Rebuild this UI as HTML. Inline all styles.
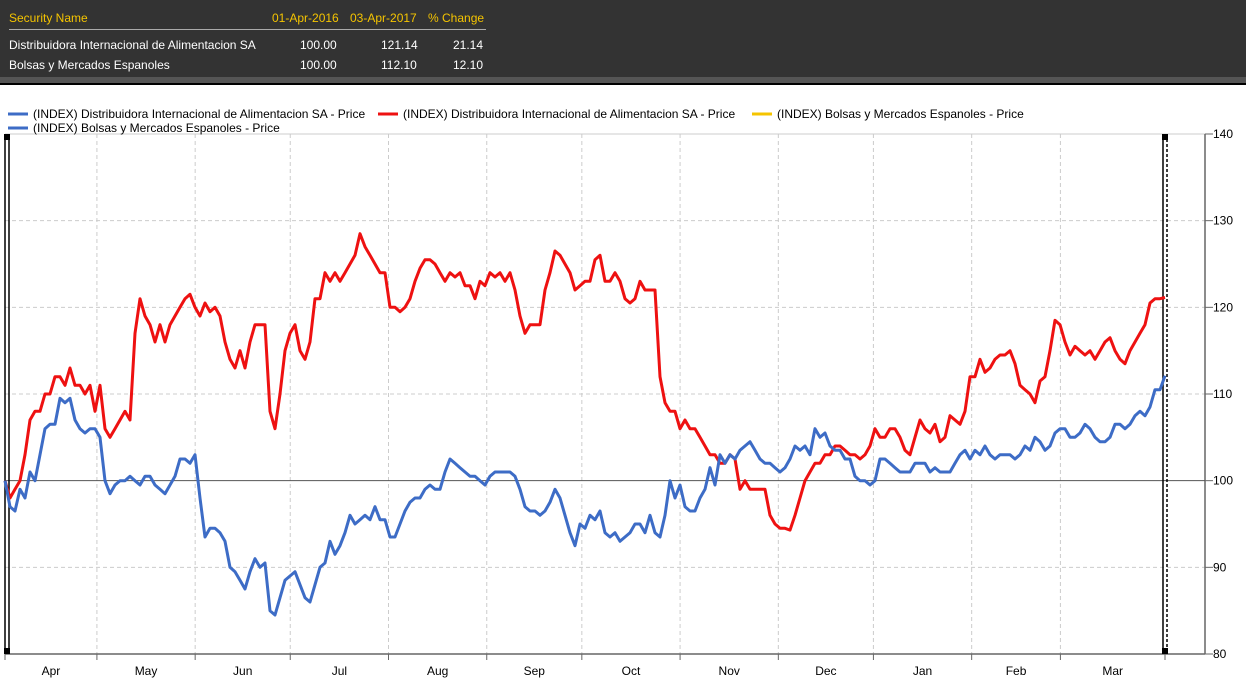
<!DOCTYPE html>
<html><head><meta charset="utf-8"><style>
body{margin:0;width:1246px;height:682px;overflow:hidden;background:#fff;font-family:"Liberation Sans",sans-serif}
#hdr{position:absolute;left:0;top:0;width:1246px;height:77px;background:#333}
#band{position:absolute;left:0;top:77px;width:1246px;height:6px;background:#555;border-bottom:2px solid #000}
.t{position:absolute;font-size:12px;white-space:nowrap}
.y{color:#f5c400}.w{color:#fff}
</style></head><body>
<div id="hdr">
<div class="t y" style="left:9px;top:11px">Security Name</div>
<div class="t y" style="left:272px;top:11px">01-Apr-2016</div>
<div class="t y" style="left:350px;top:11px">03-Apr-2017</div>
<div class="t y" style="left:428px;top:11px">% Change</div>
<div style="position:absolute;left:9px;top:29px;width:477px;height:1px;background:#aaa"></div>
<div class="t w" style="left:9px;top:38px">Distribuidora Internacional de Alimentacion SA</div>
<div class="t w" style="left:300px;top:38px">100.00</div>
<div class="t w" style="left:381px;top:38px">121.14</div>
<div class="t w" style="left:453px;top:38px">21.14</div>
<div class="t w" style="left:9px;top:58px">Bolsas y Mercados Espanoles</div>
<div class="t w" style="left:300px;top:58px">100.00</div>
<div class="t w" style="left:381px;top:58px">112.10</div>
<div class="t w" style="left:453px;top:58px">12.10</div>
</div>
<div id="band"></div>
<svg id="c" width="1246" height="682" style="position:absolute;left:0;top:0"></svg>
<script>
const yTicks=[80,90,100,110,120,130,140];
const months=["Apr","May","Jun","Jul","Aug","Sep","Oct","Nov","Dec","Jan","Feb","Mar"];
const monthStarts=[0,29,60,90,121,152,182,213,244,274,305,333,366];
const diaValues=[100,98,99,100,103,107,108,108,110,110,112,112,111,113,111,111,110,111,108,111,106,105,106,107,108,107,117,121,119,118,116,118,116,118,119,120,121,121.5,120,119,120.5,119.5,120,119,116,114,113,115,113,116,118,118,118,108,106,110,115,117,118,115,114,116,121,121,124,123,124,123,124,125,126,128.5,127,126,125,124,124,120,120,119.5,120,121,123,124.5,125.5,125.5,125,124,123,124,123.5,124,122.5,122.5,121,123,122.5,124,123.5,124,123,124,122,119,117,118,118,118,122,124,126.5,126,125,124,122,122.5,123,123,125.5,126,123,123,124,123,121,120.5,121,123,122,122,122,112,109,108,108,106,107,106,106,105,104,103,103,102,102,103,102.5,99,100,99,99,99,99,96,95,94.5,94.5,94.3,96,98,100,101,102,102,103,103,104,104,103.5,103,103,102.5,103,104,106,105,105,106,106,105,103.5,103,105,107,106,105.5,106.5,104.5,105,107.5,107,106.5,108,112,112,114,112.5,113,114,114.5,114.5,115,113.5,111,110.5,110,109,111.5,112,115,118.5,118,116,114.5,115.5,115,114.5,115,114,115,116,116.5,115,114,113.5,115,116,117,118,120.5,121,121,121.14];
const bmeValues=[100,97,96.5,99,98,101,100,103,106,106.5,106.5,109.5,109,109.5,107,106,105.5,106,106,105,100,98.5,99.5,100,100,100.5,100,99.5,100.5,100.5,99.5,99,98.5,99.5,100.5,102.5,102.5,102,103,98,93.5,94.5,94.5,94,93,90,89.5,88.5,87.5,89.5,91,90,90.5,85,84.5,86.5,88.5,89,89.5,88,86.5,86,88,90,90.5,93,91.5,92.5,94,96,95,95.5,96,95.5,97,95.5,95.5,93.5,93.5,95,96.5,97.5,98,98,99,99.5,99,99,101,102.5,102,101.5,101,100.5,100.5,100,99.5,100.5,101,101,101,101,100.5,99,97,96.5,96.5,96,96.5,97.5,99,98,96,94,92.5,95,94.5,96,95.5,96.5,94,93.5,94,93,93.5,94,95,95,94,96,94,93.5,96,100,98,99.5,97,96.5,96.5,98,99,101.5,99.5,103,102,103,102.5,103.5,104,104.5,103.5,102.5,102,102,101.5,101,101.5,102.5,104,103.5,104,103,106,105,105.5,104,103.5,103.5,102.5,102.5,100.5,100,100,99.5,100,102.5,102.5,102,101.5,101,101,101,102,102,102,101,101.5,101,101,101,102,103,103.5,102.5,103.5,103,104,103,102.5,103,103,103,102.5,103,104,103.5,105,104.5,103.5,104,105.5,106,106,105,105,105.5,106.5,106,105,104.5,104.5,105,106.5,106.5,106,106.5,107.5,108,107.5,108.5,110.5,110.5,112.1];
const NS="http://www.w3.org/2000/svg",svg=document.getElementById('c');
const L=5,R=1165,AX=1205,T=134,B=654;
const yS=v=>B-(v-80)/(140-80)*(B-T);
const dS=d=>L+d/366*(R-L);
function mk(tag,at){const e=document.createElementNS(NS,tag);for(const k in at)e.setAttribute(k,at[k]);svg.appendChild(e);return e;}
for(const v of yTicks){
 if(v>80&&v!==100&&v<140){const g=mk('line',{x1:L,x2:AX,y1:yS(v),y2:yS(v),stroke:'#ccc','stroke-dasharray':'4,3'});
 }
 const tk=mk('line',{x1:AX,x2:AX+8,y1:yS(v),y2:yS(v),stroke:'#666'});
 
 const tx=mk('text',{x:AX+8,y:yS(v)+4,'font-size':12,fill:'#000','font-family':'Liberation Sans'});tx.textContent=v;
 
}
const topBorder=mk('line',{x1:L,x2:AX,y1:T,y2:T,stroke:'#ccc'});


monthStarts.forEach((d,i)=>{
 const x=dS(d);
 if(i>0&&i<12){const g=mk('line',{x1:x,x2:x,y1:T,y2:B,stroke:'#ccc','stroke-dasharray':'4,3'});
 }
 const tk=mk('line',{x1:x,x2:x,y1:B,y2:B+6,stroke:'#666'});
 
 if(i<12){const tx=mk('text',{x:(dS(d)+dS(monthStarts[i+1]))/2,y:675,'font-size':12,'text-anchor':'middle',fill:'#000','font-family':'Liberation Sans'});tx.textContent=months[i];
 }
});
const xa=mk('line',{x1:L,x2:AX,y1:B,y2:B,stroke:'#666','stroke-width':1.5});

const ya=mk('line',{x1:AX,x2:AX,y1:T,y2:B,stroke:'#666','stroke-width':1.5});

const base=mk('line',{x1:L,x2:AX,y1:yS(100),y2:yS(100),stroke:'#555'});

[L+2,R].forEach((x,i)=>{
 const a=mk('line',{x1:x-2,x2:x-2,y1:T,y2:B,stroke:'#000','stroke-width':1.5});
 
 const battrs={x1:x+2,x2:x+2,y1:T,y2:B,stroke:'#000','stroke-width':1.5};
 if(i)battrs['stroke-dasharray']='3,2';
 const b=mk('line',battrs);
 
 const h=mk('rect',{x:x-3,y:T,width:6,height:6,fill:'#000'});
 
 const h2=mk('rect',{x:x-3,y:B-6,width:6,height:6,fill:'#000'});
 
});
function series(vals,color,name){
 const n=vals.length;
 const pts=vals.map((v,i)=>(L+i*(R-L)/(n-1)).toFixed(1)+','+yS(v).toFixed(1)).join(' ');
 const p=mk('polyline',{points:pts,fill:'none',stroke:color,'stroke-width':3,'stroke-linejoin':'round'});
 
}
series(diaValues,'#ee1111','dia-price-line');
series(bmeValues,'#3d6cc6','bme-price-line');
const leg=[[8,114,'#3d6cc6','(INDEX) Distribuidora Internacional de Alimentacion SA - Price'],[378,114,'#ee1111','(INDEX) Distribuidora Internacional de Alimentacion SA - Price'],[752,114,'#f5c400','(INDEX) Bolsas y Mercados Espanoles - Price'],[8,128,'#3d6cc6','(INDEX) Bolsas y Mercados Espanoles - Price']];
leg.forEach(e=>{
 const l=mk('line',{x1:e[0],x2:e[0]+20,y1:e[1],y2:e[1],stroke:e[2],'stroke-width':3});
 
 const t=mk('text',{x:e[0]+25,y:e[1]+4,'font-size':12,fill:'#000','font-family':'Liberation Sans'});t.textContent=e[3];
 
});
</script>
</body></html>
